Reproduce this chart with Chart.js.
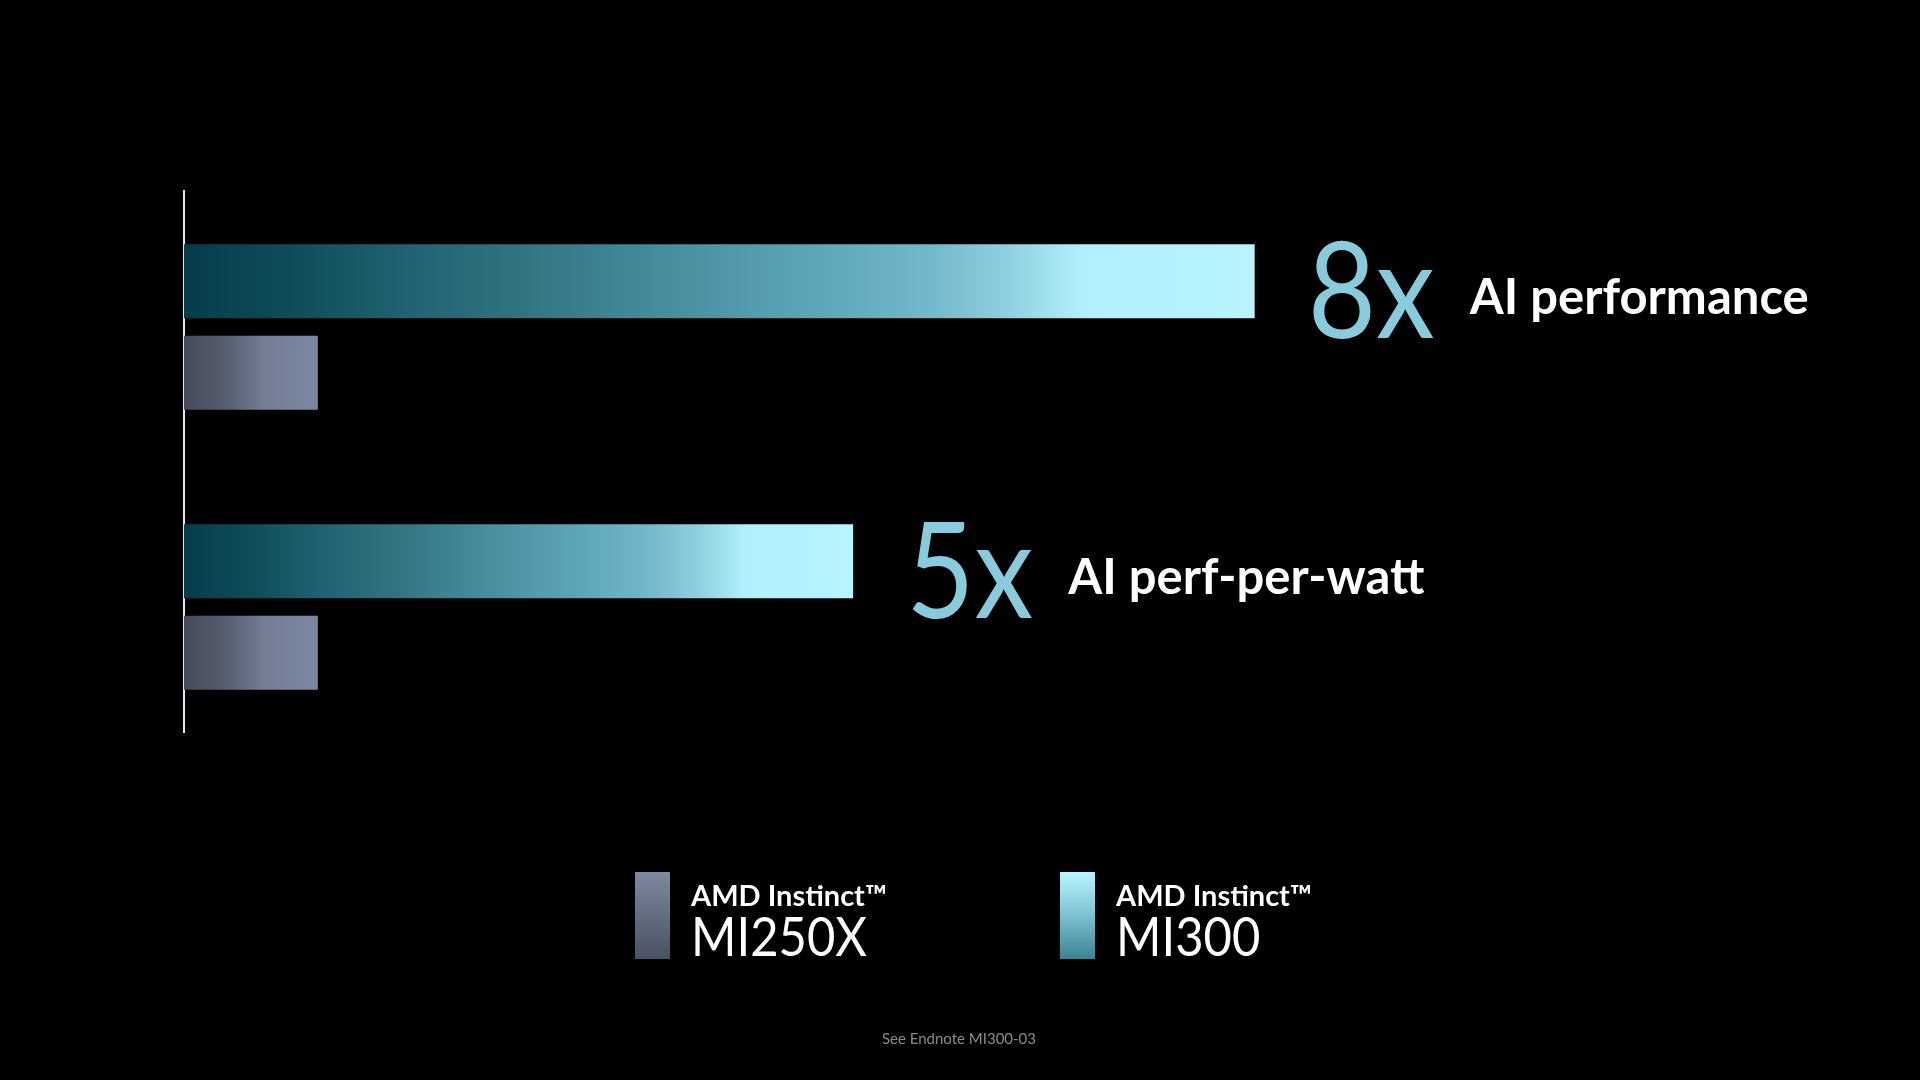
<!DOCTYPE html>
<html>
<head>
<meta charset="utf-8">
<script src="https://cdn.jsdelivr.net/npm/chart.js@4.4.0/dist/chart.umd.min.js"></script>
<style>
  html, body { margin: 0; padding: 0; background: #000; }
  #wrap { width: 1920px; height: 1080px; position: relative; }
</style>
</head>
<body>
<div id="wrap"><canvas id="c" width="1920" height="1080"></canvas></div>
<script>
// ---- data ----
const categories = ['AI performance', 'AI perf-per-watt'];
const brand = 'AMD Instinct™';
const seriesNames = ['MI300', 'MI250X'];
const mi300Values = [8, 5];
const mi250xValues = [1, 1];
const footnote = 'See Endnote MI300-03';

// ---- styles ----
const FONT = 'Lato, "Open Sans", "Noto Sans", sans-serif';

function gradH(ctx, x0, x1, stops) {
  const g = ctx.createLinearGradient(x0, 0, x1, 0);
  stops.forEach(s => g.addColorStop(s[0], s[1]));
  return g;
}
function gradV(ctx, y0, y1, stops) {
  const g = ctx.createLinearGradient(0, y0, 0, y1);
  stops.forEach(s => g.addColorStop(s[0], s[1]));
  return g;
}
const mi300Stops = [[0, '#073c4a'], [0.1, '#0f4c5a'], [0.2, '#1f6170'], [0.3, '#2e717f'],
  [0.4, '#3f8493'], [0.5, '#5096a8'], [0.6, '#5ea7bb'], [0.7, '#74b9cc'], [0.77, '#90d0e0'],
  [0.84, '#b2f0fb'], [1, '#b8f3fe']];
const mi250Stops = [[0, '#444a57'], [0.3, '#555d6d'], [0.6, '#737e95'], [1, '#7c88a0']];

function barGradient(stops) {
  return (c) => {
    const chart = c.chart;
    if (!chart.chartArea || c.type !== 'data' || !chart.scales.x) return stops[stops.length - 1][1];
    const xs = chart.scales.x;
    const x0 = xs.getPixelForValue(0);
    const x1 = xs.getPixelForValue(c.parsed ? c.parsed.x : c.raw.x);
    return gradH(chart.ctx, x0, x1, stops);
  };
}

function drawText(ctx, text, x, y, font, sx, fill) {
  ctx.save();
  ctx.font = font;
  ctx.textBaseline = 'alphabetic';
  ctx.textAlign = 'left';
  ctx.translate(x, y);
  ctx.scale(sx, 1);
  ctx.fillStyle = fill;
  ctx.fillText(text, 0, 0);
  const w = ctx.measureText(text).width * sx;
  ctx.restore();
  return w;
}

const labelPlugin = {
  id: 'barLabels',
  afterDatasetsDraw(chart) {
    const ctx = chart.ctx;
    const meta = chart.getDatasetMeta(0);
    meta.data.forEach((bar, i) => {
      const ratio = Math.round(mi300Values[i] / mi250xValues[i]);
      const numText = ratio + 'x';
      const cy = bar.y;
      const nx = bar.x + 53;
      const nBase = cy + 57;
      const numFill = gradV(ctx, nBase - 96, nBase, [[0, '#88cbdc'], [1, '#5093a6']]);
      const nw = drawText(ctx, numText, nx, nBase, '400 134px ' + FONT, 0.88, numFill);
      const lx = nx + nw + 35;
      const lBase = cy + 33;
      const lblFill = gradV(ctx, lBase - 36, lBase + 8, [[0, '#ffffff'], [0.55, '#d0d0d0'], [1, '#8a8a8a']]);
      drawText(ctx, categories[i], lx, lBase, 'bold 49px ' + FONT, 1, lblFill);
    });
  }
};

const legendPlugin = {
  id: 'customLegend',
  afterDraw(chart) {
    const ctx = chart.ctx;
    const items = [
      { name: seriesNames[1], x: 635, stops: [[0, '#7e8aa0'], [1, '#4a5162']] },
      { name: seriesNames[0], x: 1060, stops: [[0, '#b9f5ff'], [0.5, '#7cc2d2'], [1, '#3a8294']] }
    ];
    items.forEach(it => {
      ctx.save();
      ctx.fillStyle = gradV(ctx, 872, 959, it.stops);
      ctx.fillRect(it.x, 872, 35, 87);
      ctx.restore();
      const tx = it.x + 56;
      drawText(ctx, brand, tx, 906, 'bold 29px ' + FONT, 1,
        gradV(ctx, 884, 906, [[0, '#ffffff'], [1, '#b0b0b0']]));
      drawText(ctx, it.name, tx, 956, '400 55px ' + FONT, 0.89,
        gradV(ctx, 917, 956, [[0, '#ffffff'], [1, '#8c8c8c']]));
    });
    ctx.save();
    ctx.font = '15px ' + FONT;
    ctx.fillStyle = '#8a8a8a';
    ctx.textAlign = 'center';
    ctx.textBaseline = 'alphabetic';
    ctx.fillText(footnote, 959, 1044);
    ctx.restore();
  }
};

const bgPlugin = {
  id: 'bg',
  beforeDraw(chart) {
    const ctx = chart.ctx;
    ctx.save();
    ctx.fillStyle = '#000';
    ctx.fillRect(0, 0, chart.width, chart.height);
    ctx.restore();
  }
};

new Chart(document.getElementById('c'), {
  type: 'bar',
  data: {
    datasets: [
      {
        label: brand + ' ' + seriesNames[0],
        data: mi300Values.map((v, i) => ({ x: v, y: i })),
        backgroundColor: barGradient(mi300Stops),
        borderWidth: 0
      },
      {
        label: brand + ' ' + seriesNames[1],
        data: mi250xValues.map((v, i) => ({ x: v, y: i })),
        backgroundColor: barGradient(mi250Stops),
        borderWidth: 0
      }
    ]
  },
  options: {
    indexAxis: 'y',
    responsive: false,
    devicePixelRatio: 1,
    animation: false,
    categoryPercentage: 0.70,
    barPercentage: 0.81,
    layout: { padding: { left: 184, right: 130, top: 191, bottom: 348 } },
    plugins: { legend: { display: false }, tooltip: { enabled: false } },
    scales: {
      x: { type: 'linear', min: 0, max: 12, display: false, grid: { display: false } },
      y: {
        type: 'linear', reverse: true, min: -0.4857, max: 1.4464,
        bounds: 'data', offset: false,
        ticks: { display: false, stepSize: 1, includeBounds: false },
        grid: { display: false, drawTicks: false, offset: false },
        border: { display: true, color: '#e6e6e6', width: 2 }
      }
    }
  },
  plugins: [bgPlugin, labelPlugin, legendPlugin]
});
</script>
</body>
</html>
